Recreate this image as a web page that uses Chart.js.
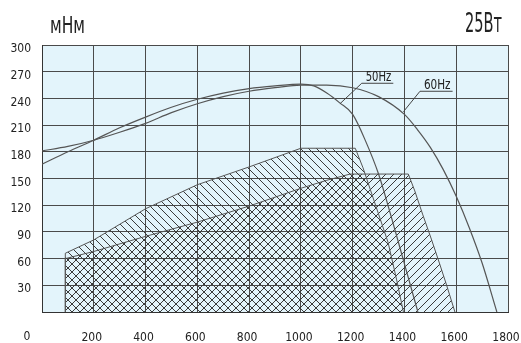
<!DOCTYPE html>
<html>
<head>
<meta charset="utf-8">
<script src="https://cdn.jsdelivr.net/npm/chart.js@4.4.0/dist/chart.umd.min.js"></script>
<style>
  html, body { margin: 0; padding: 0; background: #fff; }
  #wrap { width: 521px; height: 343px; }
</style>
</head>
<body>
<div id="wrap"><canvas id="torqueChart"></canvas></div>
<script>
// axis ticks
const xTicks = [0, 200, 400, 600, 800, 1000, 1200, 1400, 1600, 1800];
const yTicks = [0, 30, 60, 90, 120, 150, 180, 210, 240, 270, 300];

// torque curves (rpm -> mNm)
const rpm50 = [0, 100, 200, 300, 400, 500, 600, 700, 800, 900, 1000, 1050, 1100, 1150, 1200, 1250, 1300, 1350, 1400, 1452];
const torque50 = [166, 180, 193, 207, 219, 230, 239, 246, 251, 254, 256, 254, 246, 235, 222, 192, 155, 106, 54, 0];

const rpm60 = [0, 100, 200, 300, 400, 500, 600, 700, 800, 900, 1000, 1100, 1200, 1300, 1400, 1450, 1500, 1550, 1600, 1650, 1700, 1757];
const torque60 = [181, 186, 193, 202, 212, 224, 234, 242, 248, 252, 255, 255, 252, 242, 222, 205, 185, 160, 130, 95, 55, 0];

// working zones (hatched)
const zoneRpm50 = [90, 90, 200, 400, 600, 800, 1000, 1210, 1240, 1270, 1300, 1337, 1370, 1396];
const zoneTorque50 = [0, 66, 81, 116, 143, 163, 184, 184, 162, 136, 110, 78, 36, 0];

const zoneRpm60 = [90, 90, 200, 400, 600, 800, 1000, 1100, 1190, 1415, 1440, 1470, 1505, 1535, 1563, 1595];
const zoneTorque60 = [0, 60, 68, 85, 101, 119, 139, 148, 155, 155, 136, 110, 81, 55, 30, 0];

const curveNames = ['50Hz', '60Hz'];
const unitLabel = 'мНм';
const powerLabel = '25Вт';

const narrow = "'Liberation Sans Narrow', 'DejaVu Sans Condensed', 'Liberation Sans', sans-serif";
const ink = '#333';

function toPoints(xs, ys) {
    return xs.map((x, i) => ({ x: x, y: ys[i] }));
}

function hatch(dir) {
    const s = 8;
    const c = document.createElement('canvas');
    c.width = s;
    c.height = s;
    const g = c.getContext('2d');
    g.strokeStyle = '#3a3a3a';
    g.lineWidth = 1;
    g.beginPath();
    if (dir === '/') {
        g.moveTo(-1, 1); g.lineTo(1, -1);
        g.moveTo(0, s); g.lineTo(s, 0);
        g.moveTo(s - 1, s + 1); g.lineTo(s + 1, s - 1);
    } else {
        g.moveTo(-1, s - 1); g.lineTo(1, s + 1);
        g.moveTo(0, 0); g.lineTo(s, s);
        g.moveTo(s - 1, -1); g.lineTo(s + 1, 1);
    }
    g.stroke();
    return g.createPattern(c, 'repeat');
}

// draw text squeezed to a given width
function squeezed(ctx, text, x, y, size, width, align) {
    ctx.save();
    ctx.font = size + 'px ' + narrow;
    const w = ctx.measureText(text).width;
    const k = width / w;
    ctx.translate(align === 'right' ? x - width : x, y);
    ctx.scale(k, 1);
    ctx.textAlign = 'left';
    ctx.textBaseline = 'alphabetic';
    ctx.fillStyle = '#222';
    ctx.fillText(text, 0, 0);
    ctx.restore();
}

const plotBackground = {
    id: 'plotBackground',
    beforeDraw(chart) {
        const { ctx, chartArea: a } = chart;
        ctx.save();
        ctx.fillStyle = '#e3f4fb';
        ctx.fillRect(a.left, a.top, a.right - a.left, a.bottom - a.top);
        ctx.restore();
    }
};

// callouts: anchor on curve, start of underline, end of underline (data units)
const callouts = [
    { text: curveNames[0], anchor: [1151, 234], knee: [1235, 257], end: [1357, 257] },
    { text: curveNames[1], anchor: [1396, 225], knee: [1460, 248], end: [1586, 248] }
];

const textLayer = {
    id: 'textLayer',
    afterDraw(chart) {
        const { ctx } = chart;
        const xs = chart.scales.x;
        const ys = chart.scales.y;

        squeezed(ctx, unitLabel, 50, 33, 23, 35, 'left');
        squeezed(ctx, powerLabel, 502, 32, 27, 37, 'right');

        ctx.save();
        ctx.font = '12px ' + narrow;
        ctx.fillStyle = '#222';
        ctx.textAlign = 'center';
        ctx.textBaseline = 'middle';
        ctx.fillText('0', 27, 337);
        ctx.restore();

        callouts.forEach(c => {
            const ax = xs.getPixelForValue(c.anchor[0]), ay = ys.getPixelForValue(c.anchor[1]);
            const kx = xs.getPixelForValue(c.knee[0]), ky = ys.getPixelForValue(c.knee[1]);
            const ex = xs.getPixelForValue(c.end[0]);
            ctx.save();
            ctx.strokeStyle = '#444';
            ctx.lineWidth = 1;
            ctx.beginPath();
            ctx.moveTo(ax, ay);
            ctx.lineTo(kx, ky);
            ctx.lineTo(ex, ky);
            ctx.stroke();
            ctx.restore();
            squeezed(ctx, c.text, kx + 4, ky - 2, 14, ex - kx - 6, 'left');
        });
    }
};

const curveStyle = {
    borderColor: '#555',
    borderWidth: 1.2,
    pointRadius: 0,
    fill: false,
    cubicInterpolationMode: 'monotone'
};

const zoneStyle = {
    borderColor: '#555',
    borderWidth: 1,
    pointRadius: 0,
    tension: 0,
    fill: 'origin'
};

new Chart(document.getElementById('torqueChart'), {
    type: 'line',
    data: {
        datasets: [
            { ...curveStyle, label: curveNames[0], data: toPoints(rpm50, torque50) },
            { ...curveStyle, label: curveNames[1], data: toPoints(rpm60, torque60) },
            { ...zoneStyle, label: 'zone ' + curveNames[0], data: toPoints(zoneRpm50, zoneTorque50), backgroundColor: hatch('\\') },
            { ...zoneStyle, label: 'zone ' + curveNames[1], data: toPoints(zoneRpm60, zoneTorque60), backgroundColor: hatch('/') }
        ]
    },
    options: {
        responsive: true,
        maintainAspectRatio: false,
        animation: false,
        events: [],
        layout: { padding: { top: 45, right: 13, left: 0, bottom: 0 } },
        plugins: {
            legend: { display: false },
            tooltip: { enabled: false }
        },
        scales: {
            x: {
                type: 'linear',
                min: 0,
                max: 1800,
                afterFit: s => {
                    s.height = 31;
                    s.paddingLeft = 0;
                    s.paddingRight = 0;
                },
                afterBuildTicks: s => { s.ticks = xTicks.map(v => ({ value: v })); },
                grid: { color: '#4a4a4a', lineWidth: 1, drawTicks: false },
                border: { color: ink, width: 1 },
                ticks: {
                    padding: 19,
                    labelOffset: -2,
                    maxRotation: 0,
                    autoSkip: false,
                    color: '#222',
                    font: { family: narrow, size: 12 },
                    callback: v => (v === 0 ? '' : String(v))
                }
            },
            y: {
                min: 0,
                max: 300,
                afterFit: s => {
                    s.width = 42;
                    s.paddingTop = 0;
                    s.paddingBottom = 0;
                },
                afterBuildTicks: s => { s.ticks = yTicks.map(v => ({ value: v })); },
                grid: { color: '#4a4a4a', lineWidth: 1, drawTicks: false },
                border: { color: ink, width: 1 },
                ticks: {
                    padding: 11,
                    labelOffset: 4,
                    autoSkip: false,
                    color: '#222',
                    font: { family: narrow, size: 12 },
                    callback: v => (v === 0 ? '' : String(v))
                }
            }
        }
    },
    plugins: [plotBackground, textLayer]
});
</script>
</body>
</html>
